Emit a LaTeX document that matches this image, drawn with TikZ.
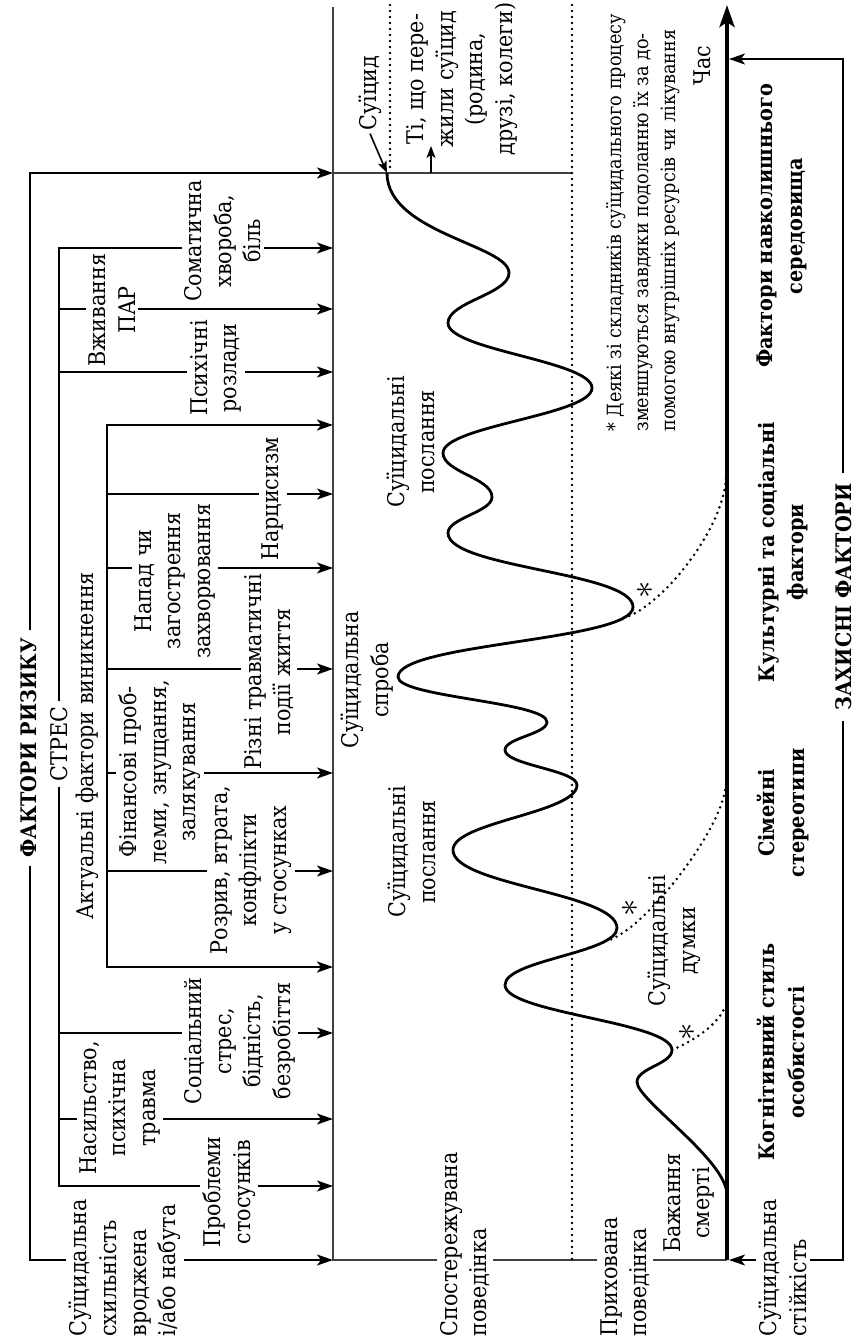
\documentclass[tikz,border=0pt]{standalone}
\usepackage{fontspec}
\setmainfont{DejaVu Serif Condensed}
\usetikzlibrary{arrows.meta}

\begin{document}
\begin{tikzpicture}[
  x=0.5pt, y=-0.5pt,
  font=\fontsize{11.5}{14.8}\selectfont,
  lab/.style={rotate=90, align=center, inner sep=1.5pt},
  cut/.style={lab, fill=white},
  heavy/.style={lab, font=\fontsize{10.7}{14.8}\selectfont\bfseries},
  notetext/.style={lab, align=left, font=\fontsize{9.8}{13.5}\selectfont},
  astx/.style={rotate=90, inner sep=0pt, font=\fontsize{17}{17}\selectfont},
  thinrule/.style={line width=0.8pt, black!75},
  branch/.style={line width=1pt, -{Stealth[length=8pt,width=5.5pt,inset=2pt]}},
  bracketline/.style={line width=1pt,
    {Stealth[length=8pt,width=5.5pt,inset=2pt]}-{Stealth[length=8pt,width=5.5pt,inset=2pt]}},
  tinyarrow/.style={line width=0.8pt, -{Stealth[length=6pt,width=4.5pt,inset=1.5pt]}},
  dots/.style={line width=1.4pt, line cap=round, dash pattern=on 0pt off 3pt},
  wave/.style={line width=1.4pt},
  timeaxis/.style={line width=2.3pt, -{Stealth[length=11pt,width=7.5pt,inset=2.5pt]}}
]
\useasboundingbox (0,0) rectangle (855,1344);

% zones of behaviour
\coordinate (vtop) at (333,7);
\coordinate (vbot) at (333,1260);
\coordinate (atop) at (727,5);
\coordinate (abot) at (727,1260);
\coordinate (dtop) at (572,5);
\coordinate (dbot) at (572,1260);
\coordinate (htop) at (333,173);
\coordinate (hend) at (572,173);
\coordinate (stop) at (390,5);
\coordinate (sbot) at (390,170);
\draw[thinrule] (vtop) -- (vbot) -- (abot);
\draw[thinrule] (htop) -- (hend);
\draw[dots] (dtop) -- (dbot);
\draw[dots] (stop) -- (sbot);
\draw[timeaxis] (abot) -- (atop);

% risk factors
\coordinate (ro1) at (30,173);
\coordinate (ro2) at (30,1260);
\draw[bracketline, line width=1.1pt] (htop) -- (ro1) -- (ro2) -- (vbot);

\coordinate (st1) at (59,248);
\coordinate (su1) at (333,248);
\coordinate (st2) at (59,1186);
\coordinate (su2) at (333,1186);
\draw[bracketline] (su1) -- (st1) -- (st2) -- (su2);
\foreach \n/\py in {a/309,b/372,c/1033,d/1119}{
  \coordinate (sf\n) at (59,\py);
  \coordinate (sg\n) at (333,\py);
  \draw[branch] (sf\n) -- (sg\n);
}

\coordinate (ac1) at (107,425);
\coordinate (ad1) at (333,425);
\coordinate (ac2) at (107,967);
\coordinate (ad2) at (333,967);
\draw[bracketline, line width=1.3pt] (ad1) -- (ac1) -- (ac2) -- (ad2);
\foreach \n/\py in {a/494,b/568,c/669,d/773,e/871}{
  \coordinate (af\n) at (107,\py);
  \coordinate (ag\n) at (333,\py);
  \draw[branch] (af\n) -- (ag\n);
}

% protective factors
\coordinate (pa1) at (729,1260);
\coordinate (pb) at (843,1260);
\coordinate (pt) at (843,59);
\coordinate (pa2) at (729,59);
\draw[bracketline] (pa1) -- (pb) -- (pt) -- (pa2);

% survivors
\coordinate (sv1) at (431,173);
\coordinate (sv2) at (431,146);
\draw[tinyarrow] (sv1) -- (sv2);

% suicidal process
\draw[wave] (387,173) coordinate (cstart)
  .. controls +(0,60) and +(0,-28) .. (509,273)
  .. controls +(0,21) and +(0,-21) .. (448,323)
  .. controls +(0,27) and +(0,-27) .. (592,388)
  .. controls +(0,27) and +(0,-27) .. (443,453)
  .. controls +(0,19) and +(0,-19) .. (492,497)
  .. controls +(0,15) and +(0,-15) .. (448,533)
  .. controls +(0,35) and +(0,-35) .. (633,607)
  .. controls +(0,34) and +(0,-34) .. (398,677) coordinate[pos=0.12] (d3)
  .. controls +(0,20) and +(0,-20) .. (547,722)
  .. controls +(0,12) and +(0,-12) .. (505,750)
  .. controls +(0,15) and +(0,-15) .. (577,785)
  .. controls +(0,28) and +(0,-28) .. (453,850)
  .. controls +(0,35) and +(0,-35) .. (617,928)
  .. controls +(0,25) and +(0,-25) .. (505,985) coordinate[pos=0.2] (d2)
  .. controls +(0,28) and +(0,-28) .. (672,1050) coordinate (d1)
  .. controls +(0,14) and +(0,-14) .. (637,1082)
  .. controls +(0,18) and +(0,-35) .. (727,1195);

\coordinate (e1) at (726,1005);
\coordinate (e2) at (726,783);
\coordinate (e3) at (726,477);
\draw[dots] (d1) .. controls (695,1040) and (718,1025) .. (e1);
\draw[dots] (d2) .. controls (640,935) and (724,830) .. (e2);
\draw[dots] (d3) .. controls (660,608) and (724,530) .. (e3);

% labels of risk factors
\node[heavy, fill=white, inner xsep=4pt] (riskfac) at (29,748) {ФАКТОРИ РИЗИКУ};
\node[cut, inner xsep=3pt] (stress) at (59,744) {СТРЕС};
\node[lab] (actual) at (87,746) {Актуальні фактори виникнення};
\node[cut] (somatic) at (223,241) {Соматична\\хвороба,\\біль};
\node[cut] (pav) at (112,310) {Вживання\\ПАР};
\node[cut] (psych) at (216,368) {Психічні\\розлади};
\node[cut] (narc) at (273,499) {Нарцисизм};
\node[cut] (attack) at (175,581) {Напад чи\\загострення\\захворювання};
\node[cut, inner xsep=0pt] (trauma) at (269,672) {Різні травматичні\\події життя};
\node[cut] (finance) at (160,772) {Фінансові проб-\\леми, знущання,\\залякування};
\node[cut] (breakup) at (251,870) {Розрив, втрата,\\конфлікти\\у стосунках};
\node[cut] (social) at (240,1041) {Соціальний\\стрес,\\бідність,\\безробіття};
\node[cut] (violence) at (120,1108) {Насильство,\\психічна\\травма};
\node[cut] (relation) at (229,1192) {Проблеми\\стосунків};
\node[cut, align=left, anchor=west] (innate) at (125,1340) {Суїцидальна\\схильність\\вроджена\\і/або набута};

% labels of the process
\node[cut, align=left, anchor=west] (observed) at (465,1340) {Спостережувана\\поведінка};
\node[cut, align=left, anchor=west] (hidden) at (625,1340) {Прихована\\поведінка};
\node[lab] (wish) at (689,1203) {Бажання\\смерті};
\node[cut, align=left, anchor=west] (resil) at (783,1340) {Суїцидальна\\стійкість};
\node[lab] (suicid) at (370,93) {Суїцид};
\node[lab] (survive) at (462,79) {Ті, що пере-\\жили суїцид\\(родина,\\друзі, колеги)};
\node[lab] (msgup) at (411,442) {Суїцидальні\\послання};
\node[lab] (attempt) at (367,680) {Суїцидальна\\спроба};
\node[lab] (msglow) at (412,852) {Суїцидальні\\послання};
\node[lab] (thought) at (674,941) {Суїцидальні\\думки};
\node[astx] (ast1) at (687,1032) {$\ast$};
\node[astx] (ast2) at (630,908) {$\ast$};
\node[astx] (ast3) at (645,590) {$\ast$};
\node[notetext, anchor=west] (remark) at (643,435) {* Деякі зі складників суїцидального процесу\\зменшуються завдяки подоланню їх за до-\\помогою внутрішніх ресурсів чи лікування};
\node[lab] (time) at (702,66) {Час};
\draw[tinyarrow] (suicid.west) -- (cstart);

% labels of protective factors
\node[heavy] (cognit) at (781,1052) {Когнітивний стиль\\особистості};
\node[heavy] (family) at (783,813) {Сімейні\\стереотипи};
\node[heavy] (culture) at (783,552) {Культурні та соціальні\\фактори};
\node[heavy] (environ) at (782,226) {Фактори навколишнього\\середовища};
\node[heavy, fill=white, inner xsep=5pt] (protfac) at (844,597) {ЗАХИСНІ ФАКТОРИ};
\end{tikzpicture}
\end{document}
